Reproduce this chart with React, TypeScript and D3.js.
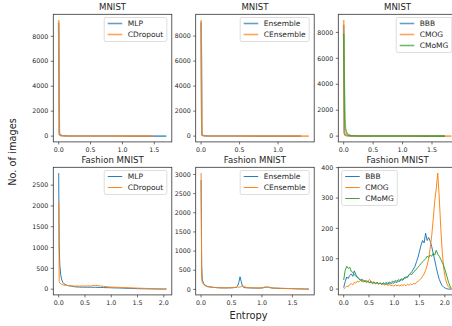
import { useMemo } from "react";
import * as d3 from "d3";

// ---- top row: MNIST ----
const MNIST_A_X = [0, 0.01, 0.02, 0.03, 0.05, 0.08, 0.12, 0.2, 0.3, 0.45, 0.6, 0.8, 1.0, 1.2, 1.35, 1.48, 1.6, 1.69];
const MNIST_MLP = [9100, 220, 130, 80, 50, 32, 22, 15, 10, 8, 6, 5, 4, 3, 3, 2, 2, 1];
const MNIST_CDROPOUT = [9300, 100, 60, 40, 28, 20, 15, 10, 8, 6, 5, 4, 3, 2, 2, 1];

const MNIST_B_X = [0, 0.01, 0.02, 0.03, 0.05, 0.08, 0.12, 0.2, 0.3, 0.45, 0.6, 0.8, 1.0, 1.2, 1.3, 1.4];
const MNIST_ENSEMBLE = [9100, 150, 80, 50, 30, 20, 14, 9, 6, 5, 4, 3, 2, 2, 1];
const MNIST_CENSEMBLE = [9280, 80, 45, 30, 20, 14, 10, 7, 5, 4, 3, 3, 2, 2, 1, 1];

const MNIST_C_X = [0, 0.01, 0.02, 0.03, 0.05, 0.08, 0.12, 0.2, 0.3, 0.45, 0.6, 0.8, 1.0, 1.2, 1.4, 1.55, 1.72, 1.83];
const MNIST_BBB = [8600, 300, 150, 90, 50, 30, 20, 12, 8, 6, 5, 4, 3, 3, 2, 2, 1];
const MNIST_CMOG = [8950, 200, 100, 60, 35, 22, 15, 10, 7, 5, 4, 3, 3, 2, 2, 1, 1, 1];
const MNIST_CMOMG = [7900, 4000, 1500, 600, 250, 100, 50, 25, 12, 8, 5, 4, 3, 3, 2, 2, 1];

// ---- bottom row: Fashion MNIST ----
const FASHION_A_X = [
  0, 0.01, 0.02, 0.04, 0.06, 0.08, 0.1,
  0.15, 0.2, 0.25, 0.3, 0.35, 0.4, 0.45, 0.5, 0.55, 0.6, 0.65, 0.7, 0.75, 0.8,
  0.85, 0.9, 0.95, 1.0, 1.05, 1.1, 1.15, 1.2, 1.25, 1.3, 1.35, 1.4, 1.45, 1.5,
  1.55, 1.6, 1.65, 1.7, 1.75, 1.8, 1.85, 1.9, 1.95, 2.0, 2.05,
];
const FASHION_MLP = [
  2790, 1100, 600, 330, 220, 160, 130,
  95, 80, 70, 58, 52, 50, 46, 48, 44, 47, 43, 45, 41,
  40, 38, 36, 35, 33, 30, 29, 27, 25, 22, 20, 18, 16, 14,
  12, 10, 9, 8, 6, 5, 4, 3, 3, 2, 1, 1,
];
const FASHION_CDROPOUT = [
  2096, 180, 150, 130, 115, 105, 98,
  90, 84, 78, 72, 76, 70, 78, 72, 80, 75, 85, 90, 82,
  75, 68, 60, 55, 50, 48, 45, 42, 40, 38, 35, 32, 30, 28,
  25, 22, 20, 18, 16, 14, 12, 10, 8, 6, 5, 3,
];

const FASHION_B_X = [
  0, 0.01, 0.02, 0.04, 0.06, 0.08, 0.1,
  0.15, 0.2, 0.25, 0.3, 0.35, 0.4, 0.45, 0.5, 0.55,
  0.58, 0.6, 0.62, 0.64, 0.66, 0.68, 0.7, 0.72,
  0.75, 0.8, 0.85, 0.9, 0.95, 1.0,
  1.03, 1.05, 1.07, 1.09, 1.11, 1.13, 1.15,
  1.2, 1.25, 1.3, 1.35, 1.4, 1.45, 1.5, 1.55, 1.6, 1.65, 1.7,
  1.77,
];
const FASHION_ENSEMBLE = [
  2850, 600, 250, 160, 120, 95, 80,
  65, 55, 48, 42, 40, 38, 40, 42, 48,
  60, 90, 180, 330, 200, 80, 55, 45,
  42, 38, 36, 35, 34, 38,
  45, 55, 60, 58, 62, 50, 40,
  32, 30, 27, 25, 22, 20, 18, 16, 14, 12, 10,
  8,
];
const FASHION_CENSEMBLE = [
  3035, 280, 180, 130, 100, 85, 72,
  60, 52, 46, 42, 40, 40, 42, 45, 50,
  55, 58, 60, 62, 70, 100, 85, 65,
  50, 45, 40, 38, 36, 40,
  50, 60, 65, 55, 50, 45, 42,
  35, 32, 30, 28, 25, 23, 20, 18, 16, 14, 12,
  10,
];

const FASHION_C_X = [
  0.0, 0.03, 0.06, 0.09, 0.12, 0.15, 0.18, 0.21, 0.24, 0.27, 0.3, 0.33,
  0.36, 0.39, 0.42, 0.45, 0.48, 0.51, 0.54, 0.57, 0.6, 0.63, 0.66, 0.69,
  0.72, 0.75, 0.78, 0.81, 0.84, 0.87, 0.9, 0.93, 0.96, 0.99, 1.02, 1.05,
  1.08, 1.11, 1.14, 1.17, 1.2, 1.23, 1.26, 1.29, 1.32, 1.35, 1.38, 1.41,
  1.44, 1.47, 1.5, 1.53, 1.56, 1.59, 1.62, 1.65, 1.68, 1.71, 1.74, 1.77,
  1.8, 1.83, 1.86, 1.89, 1.92, 1.95, 1.98, 2.01, 2.04, 2.07, 2.1, 2.13,
];
const FASHION_BBB = [
  5, 25, 40, 35, 45, 50, 42, 60, 48, 38, 35, 30,
  33, 27, 28, 24, 26, 22, 25, 20, 23, 19, 21, 17,
  20, 16, 19, 15, 18, 16, 20, 17, 21, 19, 24, 21,
  27, 25, 31, 29, 36, 40, 38, 47, 52, 58, 66, 75,
  90, 105, 125, 145, 160, 152, 184, 160, 170, 158, 140, 118,
  95, 72, 50, 32, 20, 11, 6, 3, 1, 0, 0, 0,
];
const FASHION_CMOG = [
  0, 5, 10, 8, 15, 18, 14, 22, 20, 26, 24, 28,
  25, 30, 27, 29, 24, 32, 26, 22, 24, 19, 21, 17,
  19, 15, 17, 14, 16, 12, 15, 11, 13, 10, 14, 11,
  13, 10, 14, 12, 15, 11, 16, 13, 17, 14, 19, 17,
  22, 25, 30, 35, 42, 50, 62, 78, 100, 135, 175, 230,
  290, 330, 382, 300, 200, 120, 65, 35, 18, 8, 3, 0,
];
const FASHION_CMOMG = [
  30, 62, 75, 68, 72, 58, 55, 48, 42, 40, 33, 30,
  28, 24, 26, 22, 25, 20, 23, 18, 21, 17, 22, 18,
  20, 16, 21, 18, 22, 19, 23, 21, 26, 24, 28, 26,
  31, 29, 34, 32, 38, 36, 42, 45, 50, 48, 56, 60,
  66, 72, 78, 84, 90, 95, 100, 108, 104, 112, 108, 118,
  112, 128, 115, 108, 98, 88, 76, 60, 42, 25, 10, 2,
];

// ---- ticks ----
const X_TICKS = [0, 0.5, 1.0, 1.5, 2.0];
const MNIST_Y_TICKS = [0, 2000, 4000, 6000, 8000];
const FASHION_A_Y_TICKS = [0, 500, 1000, 1500, 2000, 2500];
const FASHION_B_Y_TICKS = [0, 500, 1000, 1500, 2000, 2500, 3000];
const FASHION_C_Y_TICKS = [0, 100, 200, 300, 400];

const BLUE = "#1f77b4";
const ORANGE = "#ff7f0e";
const GREEN = "#2ca02c";

interface Series { name: string; y: number[]; color: string }
interface PanelSpec {
  title: string;
  x: number[];
  series: Series[];
  yTicks: number[];
  legend: "ur" | "ul";
  top: boolean;
}

const PANELS: PanelSpec[] = [
  { title: "MNIST", x: MNIST_A_X, yTicks: MNIST_Y_TICKS, legend: "ur", top: true,
    series: [{ name: "MLP", y: MNIST_MLP, color: BLUE }, { name: "CDropout", y: MNIST_CDROPOUT, color: ORANGE }] },
  { title: "MNIST", x: MNIST_B_X, yTicks: MNIST_Y_TICKS, legend: "ur", top: true,
    series: [{ name: "Ensemble", y: MNIST_ENSEMBLE, color: BLUE }, { name: "CEnsemble", y: MNIST_CENSEMBLE, color: ORANGE }] },
  { title: "MNIST", x: MNIST_C_X, yTicks: MNIST_Y_TICKS, legend: "ur", top: true,
    series: [{ name: "BBB", y: MNIST_BBB, color: BLUE }, { name: "CMOG", y: MNIST_CMOG, color: ORANGE }, { name: "CMoMG", y: MNIST_CMOMG, color: GREEN }] },
  { title: "Fashion MNIST", x: FASHION_A_X, yTicks: FASHION_A_Y_TICKS, legend: "ur", top: false,
    series: [{ name: "MLP", y: FASHION_MLP, color: BLUE }, { name: "CDropout", y: FASHION_CDROPOUT, color: ORANGE }] },
  { title: "Fashion MNIST", x: FASHION_B_X, yTicks: FASHION_B_Y_TICKS, legend: "ur", top: false,
    series: [{ name: "Ensemble", y: FASHION_ENSEMBLE, color: BLUE }, { name: "CEnsemble", y: FASHION_CENSEMBLE, color: ORANGE }] },
  { title: "Fashion MNIST", x: FASHION_C_X, yTicks: FASHION_C_Y_TICKS, legend: "ul", top: false,
    series: [{ name: "BBB", y: FASHION_BBB, color: BLUE }, { name: "CMOG", y: FASHION_CMOG, color: ORANGE }, { name: "CMoMG", y: FASHION_CMOMG, color: GREEN }] },
];

const FONT = "DejaVu Sans";
const INK = "#262626";

let measureCtx: CanvasRenderingContext2D | null = null;
function textWidth(s: string, size: number) {
  if (!measureCtx) measureCtx = document.createElement("canvas").getContext("2d");
  if (!measureCtx) return s.length * size * 0.6;
  measureCtx.font = `${size}px "${FONT}"`;
  return measureCtx.measureText(s).width;
}

function Panel({ p, idx, x0, y0, w, h }: { p: PanelSpec; idx: number; x0: number; y0: number; w: number; h: number }) {
  const { xs, ys, paths } = useMemo(() => {
    const allX = p.series.flatMap((s) => s.y.map((_, i) => p.x[i]));
    const allY = p.series.flatMap((s) => s.y);
    const [xa, xb] = d3.extent(allX) as [number, number];
    const [ya, yb] = d3.extent(allY) as [number, number];
    const xs = d3.scaleLinear().domain([xa - 0.05 * (xb - xa), xb + 0.05 * (xb - xa)]).range([0, w]);
    const ys = d3.scaleLinear().domain([ya - 0.05 * (yb - ya), yb + 0.05 * (yb - ya)]).range([h, 0]);
    const paths = p.series.map((s) => {
      const line = d3.line<number>().x((_, i) => xs(p.x[i])).y((d) => ys(d));
      return line(s.y) ?? "";
    });
    return { xs, ys, paths };
  }, [p, w, h]);

  const [dx0, dx1] = xs.domain();
  const [dy0, dy1] = ys.domain();
  const xTicks = X_TICKS.filter((t) => t >= dx0 && t <= dx1);
  const yTicks = p.yTicks.filter((t) => t >= dy0 && t <= dy1);
  const fmtX = d3.format(".1f");
  const lw = p.top ? 1.6 : 1;
  const alpha = p.top ? 0.7 : 0.95;

  // legend
  const lf = 7.5;
  const rowH = 11;
  const maxText = Math.max(...p.series.map((s) => textWidth(s.name, lf)));
  const lgW = 3.5 + 14.5 + 5.5 + maxText + 3.5;
  const lgH = p.series.length * rowH + 2;
  const lgX = p.legend === "ur" ? w - 5 - lgW : 3.4;
  const lgY = 3.2;

  return (
    <g transform={`translate(${x0},${y0})`}>
      <defs>
        <clipPath id={`clip${idx}`}>
          <rect x={0} y={0} width={w} height={h} />
        </clipPath>
      </defs>
      <g clipPath={`url(#clip${idx})`}>
        {paths.map((d, i) => (
          <path key={i} d={d} fill="none" stroke={p.series[i].color} strokeWidth={lw} strokeOpacity={alpha} strokeLinejoin="round" />
        ))}
      </g>
      <rect x={0} y={0} width={w} height={h} fill="none" stroke="#333" strokeWidth={0.8} />
      {xTicks.map((t) => (
        <g key={t} transform={`translate(${xs(t)},${h})`}>
          <line y2={2.5} stroke="#333" strokeWidth={0.7} />
          <text y={10.6} textAnchor="middle" fontSize={6.3} fill={INK}>{fmtX(t)}</text>
        </g>
      ))}
      {yTicks.map((t) => (
        <g key={t} transform={`translate(0,${ys(t)})`}>
          <line x2={-2.5} stroke="#333" strokeWidth={0.7} />
          <text x={-5} dy="0.35em" textAnchor="end" fontSize={6.3} fill={INK}>{t}</text>
        </g>
      ))}
      <text x={w / 2} y={-4.2} textAnchor="middle" fontSize={8.6} fill={INK}>{p.title}</text>
      <g transform={`translate(${lgX},${lgY})`}>
        <rect width={lgW} height={lgH} rx={1.8} fill="#fff" fillOpacity={0.8} stroke="#d0d0d0" strokeWidth={0.7} />
        {p.series.map((s, i) => {
          const cy = 6 + i * rowH;
          return (
            <g key={s.name}>
              <line x1={3.5} x2={18} y1={cy} y2={cy} stroke={s.color} strokeWidth={lw} strokeOpacity={alpha} />
              <text x={23.5} y={cy} dy="0.35em" fontSize={lf} fill={INK}>{s.name}</text>
            </g>
          );
        })}
      </g>
    </g>
  );
}

export default function App() {
  const W = 452;
  const H = 326;
  const colX = [53.3, 195.7, 338.3];
  const rowY = [14.3, 167.3];
  const pw = 118.5;
  const ph = 127.6;

  return (
    <svg
      width={W}
      height={H}
      viewBox={`0 0 ${W} ${H}`}
      fontFamily={FONT}
      style={{ position: "absolute", left: 0, top: 0, background: "#fff", display: "block" }}
    >
      {PANELS.map((p, i) => (
        <Panel key={i} p={p} idx={i} x0={colX[i % 3]} y0={rowY[Math.floor(i / 3)]} w={pw} h={ph} />
      ))}
      <text transform="translate(15.5,152) rotate(-90)" textAnchor="middle" fontSize={9.8} fill={INK}>
        No. of images
      </text>
      <text x={248.5} y={319} textAnchor="middle" fontSize={9.8} fill={INK}>
        Entropy
      </text>
    </svg>
  );
}
